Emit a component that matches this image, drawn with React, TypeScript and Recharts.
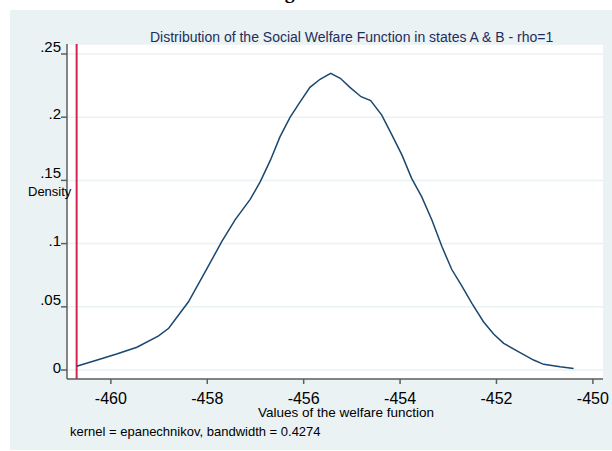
import React from "react";
import {
  CartesianGrid,
  Line,
  LineChart,
  ReferenceLine,
  XAxis,
  YAxis,
} from "recharts";

// kernel density estimate
const welfareValues = [
  -460.71, -460.3, -459.88, -459.46, -459.01, -458.8, -458.39, -458.01,
  -457.7, -457.42, -457.11, -456.9, -456.69, -456.49, -456.28, -456.07,
  -455.87, -455.66, -455.44, -455.24, -455.04, -454.81, -454.61, -454.38,
  -454.17, -453.96, -453.76, -453.55, -453.34, -453.13, -452.93, -452.72,
  -452.51, -452.27, -452.06, -451.85, -451.51, -451.23, -451.02, -450.68,
  -450.4,
];
const densityValues = [
  0.003, 0.0078, 0.0127, 0.018, 0.027, 0.033, 0.054, 0.08, 0.1015, 0.119,
  0.135, 0.149, 0.166, 0.1846, 0.2, 0.2123, 0.2236, 0.23, 0.2347, 0.2308,
  0.2236, 0.2162, 0.2131, 0.2017, 0.186, 0.17, 0.1516, 0.137, 0.1187, 0.0975,
  0.0797, 0.0665, 0.0527, 0.0382, 0.0285, 0.0211, 0.0137, 0.0079, 0.0045,
  0.0026, 0.0013,
];
const cutoffValue = -460.71;

const xTicks = [-460, -458, -456, -454, -452, -450];
const yTicks = [0, 0.05, 0.1, 0.15, 0.2, 0.25];
const yTickLabels = ["0", ".05", ".1", ".15", ".2", ".25"];

const FONT = "'Liberation Sans', Arial, sans-serif";
const PANEL = "#eaf2f3";

const data = welfareValues.map((x, i) => ({ x, density: densityValues[i] }));

function YTick(props: any) {
  const { x, y, payload } = props;
  const idx = yTicks.findIndex((t) => Math.abs(t - payload.value) < 1e-9);
  const label = idx >= 0 ? yTickLabels[idx] : String(payload.value);
  const shift = label.length === 3 ? -7.5 : label === "0" ? -2 : -3.5;
  return (
    <text x={x} y={y + shift + 5.4} textAnchor="end" fontSize={15} fontFamily={FONT} fill="#000">
      {label}
    </text>
  );
}

function XTick(props: any) {
  const { x, y, payload } = props;
  return (
    <text x={x} y={y + 18} textAnchor="middle" fontSize={16} fontFamily={FONT} fill="#000">
      {payload.value}
    </text>
  );
}

export default function App() {
  return (
    <div style={{ position: "absolute", left: 0, top: 0, width: 612, height: 451, background: "#fff", overflow: "hidden" }}>
      <div
        style={{
          position: "absolute", left: 267, top: -19, fontFamily: "'Liberation Serif', serif",
          fontWeight: "bold", fontSize: 20, lineHeight: "20px", whiteSpace: "nowrap",
        }}
      >
        Figure 6
      </div>
      <div style={{ position: "absolute", left: 10, top: 10, width: 602, height: 440, background: PANEL }} />
      <div style={{ position: "absolute", left: 0, top: 0 }}>
        <LineChart width={612} height={451} data={data} margin={{ top: 44, right: 9, left: 0, bottom: 0 }}>
          <CartesianGrid vertical={false} stroke={PANEL} strokeWidth={1.5} fill="#ffffff" />
          <XAxis
            dataKey="x"
            type="number"
            domain={[-460.91, -449.79]}
            ticks={xTicks}
            allowDataOverflow
            height={72}
            tickSize={5}
            tick={<XTick />}
            axisLine={{ stroke: "#5e5e5e", strokeWidth: 1.5 }}
            tickLine={{ stroke: "#5e5e5e", strokeWidth: 1.5 }}
          />
          <YAxis
            type="number"
            domain={[-0.0071, 0.2579]}
            ticks={yTicks}
            allowDataOverflow
            width={67}
            tickSize={6}
            tickMargin={0}
            tick={<YTick />}
            axisLine={{ stroke: "#5e5e5e", strokeWidth: 1.5 }}
            tickLine={{ stroke: "#5e5e5e", strokeWidth: 1.5 }}
          />
          <ReferenceLine x={cutoffValue} stroke="#d6254d" strokeWidth={2} />
          <Line
            type="linear"
            dataKey="density"
            stroke="#1a476f"
            strokeWidth={1.5}
            dot={false}
            isAnimationActive={false}
          />
        </LineChart>
      </div>
      <div style={{ position: "absolute", left: 150, top: 29, fontFamily: FONT, fontSize: 14, color: "#1e2e5c", whiteSpace: "nowrap" }}>
        Distribution of the Social Welfare Function in states A &amp; B - rho=1
      </div>
      <div style={{ position: "absolute", left: 28, top: 184, fontFamily: FONT, fontSize: 13, color: "#000", whiteSpace: "nowrap" }}>
        Density
      </div>
      <div style={{ position: "absolute", left: 258, top: 405, fontFamily: FONT, fontSize: 13.5, color: "#000", whiteSpace: "nowrap" }}>
        Values of the welfare function
      </div>
      <div style={{ position: "absolute", left: 70, top: 424, fontFamily: FONT, fontSize: 13, color: "#000", whiteSpace: "nowrap" }}>
        kernel = epanechnikov, bandwidth = 0.4274
      </div>
    </div>
  );
}
